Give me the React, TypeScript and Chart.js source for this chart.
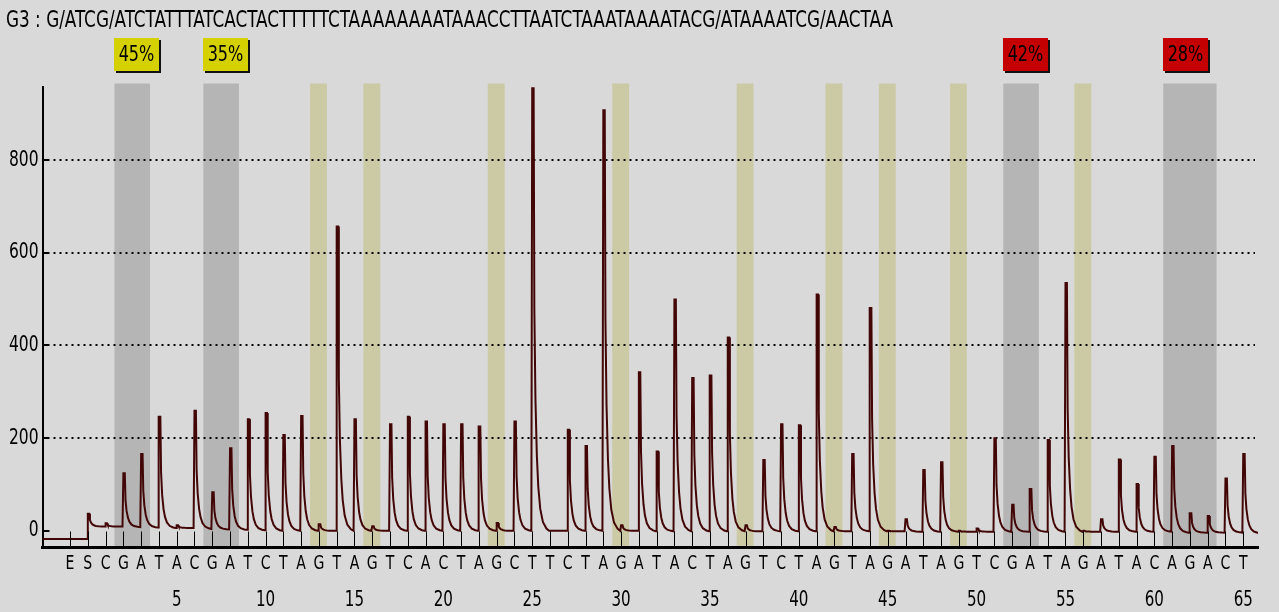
import React, { useEffect, useRef } from 'react';
import { Chart, registerables } from 'chart.js';

Chart.register(...registerables);

// ---------- data ----------
const TITLE = 'G3 : G/ATCG/ATCTATTTATCACTACTTTTTCTAAAAAAAATAAACCTTAATCTAAATAAAATACG/ATAAAATCG/AACTAA';

// dispensation order: E, S, then positions 1..65
const dispensation = [
  'E', 'S',
  'C', 'G', 'A', 'T', 'A', 'C', 'G', 'A', 'T', 'C',
  'T', 'A', 'G', 'T', 'A', 'G', 'T', 'C', 'A', 'C',
  'T', 'A', 'G', 'C', 'T', 'T', 'C', 'T', 'A', 'G',
  'A', 'T', 'A', 'C', 'T', 'A', 'G', 'T', 'C', 'T',
  'A', 'G', 'T', 'A', 'G', 'A', 'T', 'A', 'G', 'T',
  'C', 'G', 'A', 'T', 'A', 'G', 'A', 'T', 'A', 'C',
  'A', 'G', 'A', 'C', 'T',
];
const positions = dispensation.map((_, i) => i - 1); // E = -1, S = 0, then 1..65

// numbered positions shown in the second label row
const numberedPositions = [5, 10, 15, 20, 25, 30, 35, 40, 45, 50, 55, 60, 65];

// peak top value read for each dispensation
const peakTops = [
  -18, 37,
  16, 124, 166, 246, 12, 259, 83, 178, 241, 254,
  207, 248, 14, 657, 241, 10, 230, 246, 236, 230,
  230, 225, 17, 236, 955, 0, 218, 183, 908, 12,
  342, 171, 499, 330, 335, 417, 12, 153, 230, 228,
  510, 8, 166, 481, 0, 25, 131, 148, 0, 5,
  200, 56, 90, 196, 535, 0, 25, 154, 101, 160,
  183, 38, 32, 113, 166,
];

// level the trace settles to after each dispensation
const baselines = [
  -18, 9,
  9, 8, 7, 6, 6, 4, 3, 2, 1, 0,
  0, 0, 0, 0, 0, 0, 0, 0, 0, 0,
  0, 0, 0, 0, 0, 0, 0, 0, 0, 0,
  -1, -1, -1, -1, -1, -1, -1, -1, -1, -1,
  -1, -1, -1, -1, -1, -2, -2, -2, -2, -2,
  -2, -2, -2, -2, -2, -2, -2, -2, -2, -2,
  -4, -4, -4, -4, -5,
];

// decay shape of one pyrogram peak: [offset from dispensation, fraction of peak height]
const peakProfile: [number, number][] = [
  [0.08, 1], [0.12, 0.5], [0.18, 0.3], [0.26, 0.17], [0.34, 0.1],
  [0.45, 0.05], [0.6, 0.02], [0.8, 0.005], [0.95, 0],
];

// SNP regions (first, last dispensation position) with their allele frequency labels
const snpStarts = [2, 7, 52, 61];
const snpEnds = [3, 8, 53, 63];
const snpLabels = ['45%', '35%', '42%', '28%'];
const snpLabelColors = ['#d5d000', '#d5d000', '#c40000', '#c40000'];

// control positions shown with khaki bands
const controlPositions = [13, 16, 23, 30, 37, 42, 45, 49, 56];

const yTicks = [0, 200, 400, 600, 800];
const xMin = -2.55;
const xMax = 65.83;
const yMin = -35;
const yMax = 959;

const FONT = "'Liberation Sans Narrow', 'DejaVu Sans Condensed', 'Arial Narrow', sans-serif";

function buildTrace() {
  const pts: { x: number; y: number }[] = [];
  pts.push({ x: xMin, y: baselines[0] });
  for (let i = 0; i < positions.length; i++) {
    const p = positions[i];
    const top = peakTops[i];
    const before = i > 0 ? baselines[i - 1] : baselines[0];
    const after = baselines[i];
    pts.push({ x: p - 0.03, y: before });
    pts.push({ x: p, y: top });
    for (const [dx, f] of peakProfile) {
      pts.push({ x: p + dx, y: after + (top - after) * f });
    }
  }
  return pts;
}

// draws narrow (horizontally condensed) text, like the instrument's bitmap font
function narrowText(ctx: CanvasRenderingContext2D, text: string, x: number, y: number, size: number, sx: number, align: 'left' | 'center' | 'right') {
  ctx.save();
  ctx.font = `${size}px ${FONT}`;
  ctx.textBaseline = 'middle';
  ctx.textAlign = align;
  ctx.translate(x, y);
  ctx.scale(sx, 1);
  ctx.fillText(text, 0, 0);
  ctx.restore();
}

const decorPlugin = {
  id: 'pyroDecor',
  beforeDraw(chart: any) {
    const { ctx, chartArea, scales } = chart;
    const xs = scales.x;
    const ys = scales.y;
    ctx.save();
    ctx.fillStyle = '#b5b5b5';
    for (let i = 0; i < snpStarts.length; i++) {
      const a = xs.getPixelForValue(snpStarts[i] - 0.5);
      const b = xs.getPixelForValue(snpEnds[i] + 0.5);
      ctx.fillRect(a, chartArea.top - 3, b - a, chartArea.bottom - chartArea.top + 3);
    }
    ctx.fillStyle = '#cbcaa5';
    for (const p of controlPositions) {
      const a = xs.getPixelForValue(p - 0.5);
      const b = xs.getPixelForValue(p + 0.45);
      ctx.fillRect(a, chartArea.top - 3, b - a, chartArea.bottom - chartArea.top + 3);
    }
    ctx.strokeStyle = '#000';
    ctx.lineWidth = 2;
    ctx.setLineDash([2, 4]);
    for (const v of yTicks) {
      if (v === 0) continue;
      const py = Math.round(ys.getPixelForValue(v));
      ctx.beginPath();
      ctx.moveTo(chartArea.left + 11, py);
      ctx.lineTo(chartArea.right - 3, py);
      ctx.stroke();
    }
    ctx.restore();
  },
  afterDatasetsDraw(chart: any) {
    const { ctx, chartArea, scales } = chart;
    const xs = scales.x;
    const ys = scales.y;
    ctx.save();
    ctx.strokeStyle = '#000';
    ctx.lineWidth = 1;
    for (const p of positions) {
      const px = Math.round(xs.getPixelForValue(p)) + 0.5;
      ctx.beginPath();
      ctx.moveTo(px, chartArea.bottom);
      ctx.lineTo(px, chartArea.bottom - 15.5);
      ctx.stroke();
    }
    ctx.lineWidth = 2;
    for (const v of yTicks) {
      const py = Math.round(ys.getPixelForValue(v));
      ctx.beginPath();
      ctx.moveTo(chartArea.left, py);
      ctx.lineTo(chartArea.left + 7, py);
      ctx.stroke();
    }
    ctx.restore();
  },
  afterDraw(chart: any) {
    const { ctx, chartArea, scales } = chart;
    const xs = scales.x;
    const ys = scales.y;

    ctx.save();
    ctx.fillStyle = '#000';
    // axis labels
    for (let i = 0; i < positions.length; i++) {
      narrowText(ctx, dispensation[i], xs.getPixelForValue(positions[i]), chartArea.bottom + 16.5, 20, 0.78, 'center');
    }
    for (const n of numberedPositions) {
      narrowText(ctx, String(n), xs.getPixelForValue(n), chartArea.bottom + 53.5, 21, 0.8, 'center');
    }
    for (const v of yTicks) {
      narrowText(ctx, String(v), chartArea.left - 4, ys.getPixelForValue(v), 21, 0.82, 'right');
    }

    // title, fitted to the header width
    ctx.font = `23px ${FONT}`;
    const w = ctx.measureText(TITLE).width;
    narrowText(ctx, TITLE, 6, 21, 23, 887 / w, 'left');

    // allele frequency labels
    for (let i = 0; i < snpLabels.length; i++) {
      const left = Math.round(xs.getPixelForValue(snpStarts[i] - 0.5));
      const top = 38;
      const bw = 45;
      const bh = 33;
      ctx.fillStyle = '#111';
      ctx.fillRect(left + 2, top + 2, bw, bh);
      ctx.fillStyle = snpLabelColors[i];
      ctx.fillRect(left, top, bw, bh);
      ctx.fillStyle = '#000';
      narrowText(ctx, snpLabels[i], left + bw / 2, top + bh / 2 + 1, 21, 0.85, 'center');
    }
    ctx.restore();
  },
};

export default function App() {
  const ref = useRef<HTMLCanvasElement | null>(null);

  useEffect(() => {
    if (!ref.current) return;
    const chart = new Chart(ref.current, {
      type: 'line',
      data: {
        datasets: [
          {
            data: buildTrace(),
            borderColor: '#420606',
            borderWidth: 2,
            pointRadius: 0,
            tension: 0,
            fill: false,
          },
        ],
      },
      options: {
        responsive: false,
        animation: false,
        devicePixelRatio: 1,
        layout: { padding: { top: 86.5, right: 21, left: 0, bottom: 0 } },
        plugins: {
          legend: { display: false },
          tooltip: { enabled: false },
          title: { display: false },
        },
        scales: {
          x: {
            type: 'linear',
            min: xMin,
            max: xMax,
            afterBuildTicks: (s: any) => {
              s.ticks = positions.map((v) => ({ value: v }));
            },
            afterFit: (s: any) => {
              s.height = 65;
            },
            grid: { display: false, drawTicks: false },
            border: { display: true, color: '#000', width: 3 },
            ticks: { display: false },
          },
          y: {
            type: 'linear',
            min: yMin,
            max: yMax,
            afterBuildTicks: (s: any) => {
              s.ticks = yTicks.map((v) => ({ value: v }));
            },
            afterFit: (s: any) => {
              s.width = 42.5;
            },
            grid: { display: false, drawTicks: false },
            border: { display: true, color: '#000', width: 2 },
            ticks: { display: false },
          },
        },
      },
      plugins: [decorPlugin],
    } as any);
    return () => chart.destroy();
  }, []);

  return (
    <div
      style={{
        position: 'fixed',
        left: 0,
        top: 0,
        width: 1279,
        height: 612,
        background: '#d9d9d9',
      }}
    >
      <canvas ref={ref} width={1279} height={612} style={{ display: 'block', width: 1279, height: 612 }} />
    </div>
  );
}
